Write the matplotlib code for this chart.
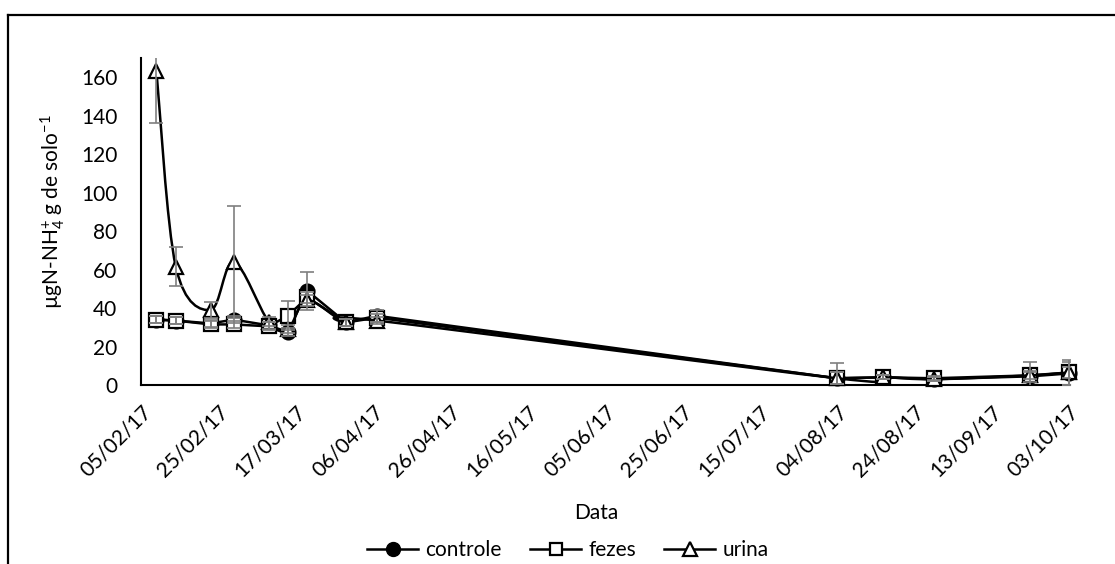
import matplotlib
matplotlib.use("Agg")
import matplotlib.pyplot as plt
import matplotlib.dates as mdates
from matplotlib.path import Path
from matplotlib.patches import PathPatch
from matplotlib.lines import Line2D
import numpy as np
import pandas as pd

plt.rcParams.update({
    "font.family": ["Lato", "DejaVu Sans"],
    "font.size": 15,
    "mathtext.fontset": "custom",
    "mathtext.rm": "Lato",
    "mathtext.it": "Lato:italic",
    "mathtext.bf": "Lato:bold",
})

# sampling dates
dates = pd.to_datetime([
    "2017-02-09", "2017-02-14", "2017-02-23", "2017-03-01", "2017-03-10",
    "2017-03-15", "2017-03-20", "2017-03-30", "2017-04-07", "2017-08-04",
    "2017-08-16", "2017-08-29", "2017-09-23", "2017-10-03",
])

controle = [34, 33.5, 32, 34, 31, 27.5, 49, 32.5, 36, 3.5, 4, 3, 4.5, 6]
fezes    = [34, 33.5, 31.5, 31.5, 30.5, 36, 45.5, 32.5, 35, 3.5, 4, 3.5, 5, 6.5]
urina    = [163, 61.5, 39, 64, 33, 29, 44, 32.5, 33.5, 3.5, 4, 3, 5, 6.5]

err_controle = [2, 2, 2, 2, 2, 2, 10, 2, 3, 3, 1, 1, 3, 6]
err_fezes    = [2, 2, 2, 2, 2, 7.5, 3, 2, 2, 8, 1, 1, 6.7, 6.5]
err_urina    = [27, 10, 4, 29, 2.5, 2, 3, 2, 2, 3, 1, 1, 2, 3]

tick_dates = pd.date_range("2017-02-05", "2017-10-03", freq="20D")

fig = plt.figure(figsize=(11.15, 5.64), dpi=100)
ax = fig.add_axes([141 / 1115, 1 - 385 / 564, (1070 - 141) / 1115, (385 - 58) / 564])

LW = 1.8
MS = 10
MEW = 1.6
ERR_COLOR = "#7f7f7f"


def smooth_path(xs, ys):
    # Excel-style smoothed line drawn as cubic bezier segments
    pts = np.column_stack([xs, ys])
    n = len(pts)
    verts = [pts[0]]
    codes = [Path.MOVETO]
    for i in range(n - 1):
        p0 = pts[i - 1] if i > 0 else pts[i]
        p1 = pts[i]
        p2 = pts[i + 1]
        p3 = pts[i + 2] if i + 2 < n else pts[i + 1]
        c1 = p1 + (p2 - p0) / 6.0
        c2 = p2 - (p3 - p1) / 6.0
        verts += [c1, c2, p2]
        codes += [Path.CURVE4] * 3
    return Path(verts, codes)


xnum = mdates.date2num(dates)

# controle
ax.plot(dates, controle, color="black", lw=LW, marker="o", ms=MS,
        mfc="black", mec="black", mew=MEW, zorder=3, clip_on=False)
# fezes
ax.plot(dates, fezes, color="black", lw=LW, marker="s", ms=MS - 0.5,
        mfc="white", mec="black", mew=MEW, zorder=4, clip_on=False)
# urina (smoothed)
ax.add_patch(PathPatch(smooth_path(xnum, urina), fill=False, edgecolor="black",
                       lw=LW, zorder=5, transform=ax.transData))
ax.plot(dates, urina, ls="none", marker="^", ms=MS, mfc="white",
        mec="black", mew=MEW, zorder=6, clip_on=False)

for vals, errs in [(controle, err_controle), (fezes, err_fezes), (urina, err_urina)]:
    ax.errorbar(dates, vals, yerr=errs, fmt="none", ecolor=ERR_COLOR,
                elinewidth=1.2, capsize=5, capthick=1.2, zorder=7)

ax.set_xlim(mdates.date2num(pd.Timestamp("2017-02-05")),
            mdates.date2num(pd.Timestamp("2017-10-03")) + 0.3)
ax.set_ylim(0, 170)
ax.set_yticks(range(0, 161, 20))
ax.set_xticks(tick_dates)
ax.set_xticklabels([d.strftime("%d/%m/%y") for d in tick_dates],
                   rotation=45, ha="right", va="top", rotation_mode="anchor")
ax.tick_params(axis="x", length=0, pad=12)
ax.tick_params(axis="y", length=0, pad=17)

for s in ["top", "right"]:
    ax.spines[s].set_visible(False)
for s in ["left", "bottom"]:
    ax.spines[s].set_linewidth(1.5)
    ax.spines[s].set_color("black")

ax.set_ylabel(r"µgN-NH$_\mathrm{4}^\mathrm{+}$ g de solo$^\mathrm{-1}$")
ax.yaxis.set_label_coords(-0.08, 0.53)
ax.set_xlabel("Data")
ax.xaxis.set_label_coords(0.49, -0.36)

handles = [
    Line2D([0], [0], color="black", lw=LW, marker="o", ms=MS, mfc="black", mec="black"),
    Line2D([0], [0], color="black", lw=LW, marker="s", ms=MS - 1, mfc="white", mec="black", mew=MEW),
    Line2D([0], [0], color="black", lw=LW, marker="^", ms=MS, mfc="white", mec="black", mew=MEW),
]
fig.legend(handles, ["controle", "fezes", "urina"], loc="center",
           bbox_to_anchor=(568 / 1115, 1 - 550 / 564), ncol=3, frameon=False,
           handlelength=2.45, handletextpad=0.35, columnspacing=1.35,
           borderaxespad=0, borderpad=0)

# outer chart border (partially cropped in the original)
fig.add_artist(Line2D([8 / 1115, 8 / 1115], [0, 1 - 15 / 564], color="black",
                      lw=1.6, transform=fig.transFigure))
fig.add_artist(Line2D([8 / 1115, 1], [1 - 15 / 564, 1 - 15 / 564], color="black",
                      lw=1.6, transform=fig.transFigure))

fig.savefig("out.png", dpi=100)
